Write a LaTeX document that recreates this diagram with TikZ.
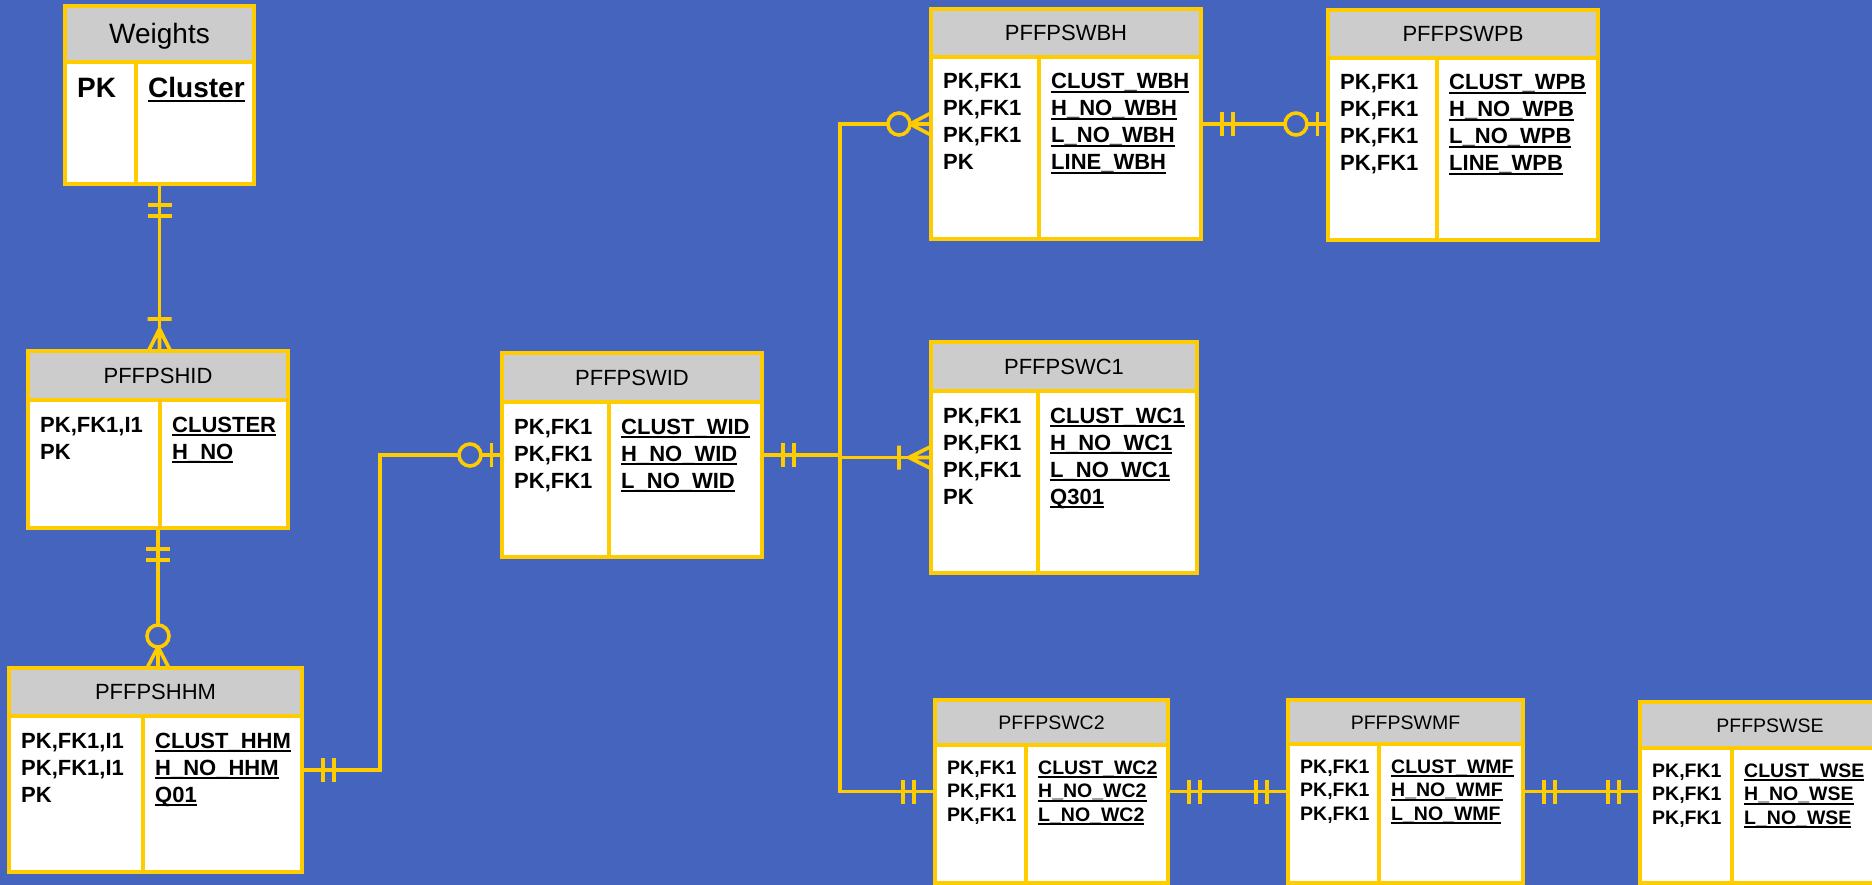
\documentclass[tikz,border=0pt]{standalone}
\usepackage{fontspec}
\setmainfont{Liberation Sans}
\usetikzlibrary{calc}

\definecolor{bgblue}{RGB}{68,100,190}
\definecolor{eryellow}{RGB}{255,204,0}
\definecolor{hdgray}{RGB}{204,204,204}

\newsavebox{\fldbox}
\newcommand{\fld}[1]{\sbox{\fldbox}{#1}\rlap{\usebox{\fldbox}}\rule[-4.2pt]{\wd\fldbox}{1.9pt}}

\def\rowgap{27pt}
\def\rowskip{32}

\tikzset{
  eline/.style={draw=eryellow, line width=3.6pt},
  ebox/.style={eline, fill=white, inner sep=0pt, outer sep=0pt},
  ehead/.style={ebox, fill=hdgray, font=\fontsize{22}{26}\selectfont, text height=15.8pt, text depth=0pt},
  ekey/.style={anchor=base west, inner sep=0pt, font=\bfseries\fontsize{22}{26}\selectfont},
  onlyone/.pic={\draw[eline] (21,-12) -- (21,12) (32,-12) -- (32,12);},
  zeroone/.pic={\draw[eline] (10.5,-12) -- (10.5,12); \draw[eline, fill=bgblue] (32,0) circle (11);},
  onemany/.pic={\draw[eline, line join=round] (0,-11) -- (22,0) -- (0,11) (0,0) -- (22,0) (32,-12) -- (32,12);},
  zeromany/.pic={\draw[eline, line join=round] (0,-11) -- (21,0) -- (0,11) (0,0) -- (21,0); \draw[eline, fill=bgblue] (32,0) circle (11);},
}

% name, left, top, right, header bottom, divider, bottom, title
\newcommand{\ertable}[8]{%
  \node[ebox, anchor=north west, minimum width=#4pt-#2pt, minimum height=#7pt-#3pt] (#1) at (#2,#3) {};
  \node[ehead, anchor=north west, minimum width=#4pt-#2pt, minimum height=#5pt-#3pt] (#1-h) at (#2,#3) {#8};
  \draw[eline] (#6,#5) -- (#6,#7);
  \coordinate (#1-k) at (#2+12,#5+\rowskip);
  \coordinate (#1-f) at (#6+12,#5+\rowskip);
}
\newcommand{\errows}[2]{%
  \foreach \k/\f [count=\i from 0] in {#2} {
    \node[ekey] (#1-k\i) at ([yshift=-\i*\rowgap]#1-k) {\k};
    \node[ekey] (#1-f\i) at ([yshift=-\i*\rowgap]#1-f) {\fld{\f}};
  }}

\begin{document}
\begin{tikzpicture}[x=1pt, y=-1pt]
  \useasboundingbox (0,0) rectangle (1872,885);
  \fill[bgblue] (0,0) rectangle (1872,885);

  % tables
  \begin{scope}[ehead/.append style={font=\fontsize{28}{32}\selectfont, text height=20pt},
                ekey/.append style={font=\bfseries\fontsize{28}{32}\selectfont}]
    \def\rowskip{36}
    \ertable{weights}{65}{6}{254}{62}{136}{184}{Weights}
    \errows{weights}{PK/Cluster}
  \end{scope}

  \ertable{shid}{28}{351}{288}{400}{160}{528}{PFFPSHID}
  \errows{shid}{{PK,FK1,I1}/CLUSTER, PK/H\_NO}

  \ertable{hhm}{9}{668}{302}{716}{143}{872}{PFFPSHHM}
  \errows{hhm}{{PK,FK1,I1}/CLUST\_HHM, {PK,FK1,I1}/H\_NO\_HHM, PK/Q01}

  \ertable{wid}{502}{353}{762}{402}{609}{557}{PFFPSWID}
  \errows{wid}{{PK,FK1}/CLUST\_WID, {PK,FK1}/H\_NO\_WID, {PK,FK1}/L\_NO\_WID}

  \ertable{wbh}{931}{9}{1201}{57}{1039}{239}{PFFPSWBH}
  \errows{wbh}{{PK,FK1}/CLUST\_WBH, {PK,FK1}/H\_NO\_WBH, {PK,FK1}/L\_NO\_WBH, PK/LINE\_WBH}

  \ertable{wpb}{1328}{10}{1598}{58}{1437}{240}{PFFPSWPB}
  \errows{wpb}{{PK,FK1}/CLUST\_WPB, {PK,FK1}/H\_NO\_WPB, {PK,FK1}/L\_NO\_WPB, {PK,FK1}/LINE\_WPB}

  \ertable{c1}{931}{342}{1197}{391}{1038}{573}{PFFPSWC1}
  \errows{c1}{{PK,FK1}/CLUST\_WC1, {PK,FK1}/H\_NO\_WC1, {PK,FK1}/L\_NO\_WC1, PK/Q301}

  \begin{scope}[ehead/.append style={font=\fontsize{19.5}{24}\selectfont, text height=14pt},
                ekey/.append style={font=\bfseries\fontsize{19.5}{24}\selectfont}]
    \def\rowgap{23.5pt}
    \def\rowskip{29}
    \ertable{c2}{935}{700}{1168}{745}{1026}{883}{PFFPSWC2}
    \errows{c2}{{PK,FK1}/CLUST\_WC2, {PK,FK1}/H\_NO\_WC2, {PK,FK1}/L\_NO\_WC2}
    \ertable{wmf}{1288}{700}{1523}{744}{1379}{883}{PFFPSWMF}
    \errows{wmf}{{PK,FK1}/CLUST\_WMF, {PK,FK1}/H\_NO\_WMF, {PK,FK1}/L\_NO\_WMF}
    \ertable{wse}{1640}{702}{1900}{748}{1732}{883}{PFFPSWSE}
    \errows{wse}{{PK,FK1}/CLUST\_WSE, {PK,FK1}/H\_NO\_WSE, {PK,FK1}/L\_NO\_WSE}
  \end{scope}

  % relationships
  \draw[eline] (weights.south) -- (weights.south |- shid.north);
  \pic[rotate=-90] at (weights.south) {onlyone};
  \pic[rotate=90] at (weights.south |- shid.north) {onemany};

  \draw[eline] (shid.south) -- (shid.south |- hhm.north);
  \pic[rotate=-90] at (shid.south) {onlyone};
  \pic[rotate=90] at (shid.south |- hhm.north) {zeromany};

  \draw[eline] (hhm.east) -- ++(78,0) |- (wid.west);
  \pic at (hhm.east) {onlyone};
  \pic[rotate=180] at (wid.west) {zeroone};

  \coordinate (trunk) at (840,0);
  \draw[eline] (wbh.west) -| (c2.west -| trunk) -- (c2.west);
  \draw[eline] (wid.east) -- (wid.east -| trunk);
  \draw[eline] (c1.west -| trunk) -- (c1.west);
  \pic at (wid.east) {onlyone};
  \pic[rotate=180] at (wbh.west) {zeromany};
  \pic[rotate=180] at (c1.west) {onemany};
  \pic[rotate=180] at (c2.west) {onlyone};

  \draw[eline] (wbh.east) -- (wbh.east -| wpb.west);
  \pic at (wbh.east) {onlyone};
  \pic[rotate=180] at (wbh.east -| wpb.west) {zeroone};

  \draw[eline] (c2.east) -- (c2.east -| wmf.west);
  \pic at (c2.east) {onlyone};
  \pic[rotate=180] at (c2.east -| wmf.west) {onlyone};

  \draw[eline] (wmf.east) -- (wmf.east -| wse.west);
  \pic at (wmf.east) {onlyone};
  \pic[rotate=180] at (wmf.east -| wse.west) {onlyone};
\end{tikzpicture}
\end{document}
